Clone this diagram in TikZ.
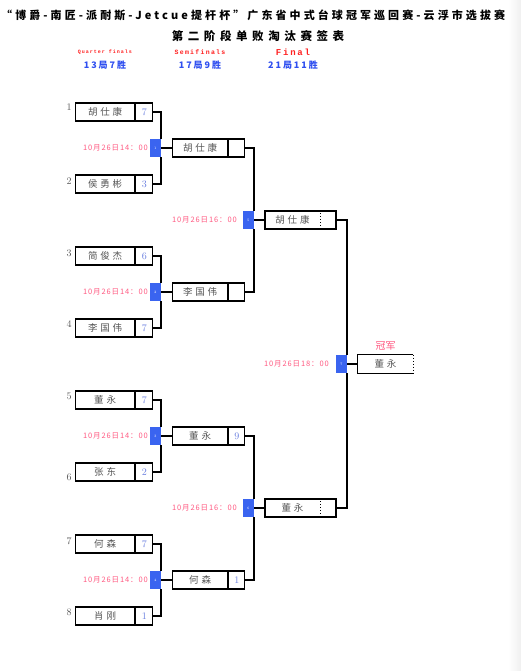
\documentclass[tikz,border=0pt]{standalone}
\usepackage{fontspec}
\newfontfamily\cjk{Noto Sans CJK SC}
\newfontfamily\titlefont[LetterSpace=28]{Noto Sans CJK SC}
\newfontfamily\subtitlefont[LetterSpace=40]{Noto Sans CJK SC}
\newfontfamily\namefont[LetterSpace=30]{Noto Sans CJK SC}
\newfontfamily\datefont[LetterSpace=12]{Noto Sans CJK SC}
\newfontfamily\gamefont[LetterSpace=22]{Noto Sans CJK SC}
\newfontfamily\labfont[LetterSpace=20]{Liberation Mono}
\definecolor{sqblue}{HTML}{3A64F0}
\definecolor{datecol}{HTML}{FF5A82}
\definecolor{scorecol}{HTML}{6A7FE0}
\definecolor{namecol}{HTML}{555555}
\definecolor{labred}{HTML}{FF2020}
\definecolor{labblue}{HTML}{2F4FF0}
\tikzset{
  ln/.style={line width=1.2pt, black},
  namebox/.style={draw, line width=1.2pt, minimum height=18pt, inner sep=0pt, anchor=west,
    text=namecol, font=\namefont\fontsize{9.5}{10}\selectfont},
  scorebox/.style={draw, line width=1.2pt, minimum height=18pt, inner sep=0pt, anchor=west,
    text=scorecol, font=\fontsize{10}{10}\selectfont},
  msq/.style={fill=sqblue, minimum width=11pt, minimum height=18pt, inner sep=0pt, anchor=east,
    text=white, font=\fontsize{3.5}{4}\selectfont},
  datelab/.style={anchor=east, inner sep=0pt, text=datecol, font=\datefont\fontsize{7.5}{8}\selectfont},
  seed/.style={inner sep=0pt, text=namecol, font=\fontsize{10}{10}\selectfont},
  plain/.style={inner sep=0pt, text=namecol, font=\namefont\fontsize{9.5}{10}\selectfont},
}
\begin{document}
\begin{tikzpicture}[x=1pt, y=-1pt]
\useasboundingbox (0,0) rectangle (521,671);
\clip (0,0) rectangle (521,671);
\fill[white] (0,0) rectangle (521,671);
\shade[left color=white, right color=gray!12] (508,0) rectangle (521,671);
% titles
\node[anchor=west, inner sep=0pt] (t1) at (1,15) {\titlefont\bfseries\fontsize{11}{11}\selectfont “博爵-南匠-派耐斯-Jetcue提杆杯”广东省中式台球冠军巡回赛-云浮市选拔赛};
\node[inner sep=0pt] (t2) at (258,36) {\subtitlefont\bfseries\fontsize{11.5}{12}\selectfont 第二阶段单败淘汰赛签表};
\node[inner sep=0pt, text=labred] (l1) at (105,52) {\labfont\bfseries\fontsize{5}{5}\selectfont Quarter finals};
\node[inner sep=0pt, text=labred] (l2) at (200,52) {\labfont\bfseries\fontsize{6.5}{6.5}\selectfont Semifinals};
\node[inner sep=0pt, text=labred] (l3) at (293,52) {\labfont\bfseries\fontsize{9}{9}\selectfont Final};
\node[inner sep=0pt, text=labblue] (g1) at (105,65) {\gamefont\bfseries\fontsize{9}{9}\selectfont 13局7胜};
\node[inner sep=0pt, text=labblue] (g2) at (200,65) {\gamefont\bfseries\fontsize{9}{9}\selectfont 17局9胜};
\node[inner sep=0pt, text=labblue] (g3) at (293,65) {\gamefont\bfseries\fontsize{9}{9}\selectfont 21局11胜};
% quarter final boxes
\foreach \i/\y/\n/\s/\sy in {1/112/胡仕康/7/107, 2/184/侯勇彬/3/181, 3/256/简俊杰/6/253, 4/328/李国伟/7/324,
                           5/400/董永/7/396, 6/472/张东/2/477, 7/544/何森/7/541, 8/616/肖刚/1/612}{
  \node[namebox, minimum width=59pt] (q\i) at (75,\y) {\n};
  \node[scorebox, minimum width=17pt] (q\i s) at (q\i.east) {\s};
  \node[seed] (n\i) at (69,\sy) {\i};
}
% semifinal boxes
\foreach \i/\y/\n/\s in {1/148/胡仕康/{}, 2/292/李国伟/{}, 3/436/董永/9, 4/580/何森/1}{
  \node[namebox, minimum width=55pt] (s\i) at (172,\y) {\n};
  \node[scorebox, minimum width=16pt] (s\i s) at (s\i.east) {\s};
}
% QF match squares
\foreach \i/\y in {1/148, 2/292, 3/436, 4/580}{
  \node[msq] (m\i) at (161,\y) {\i};
  \node[datelab] (d\i) at (148,\y) {10月26日14：00};
}
\foreach \i/\a/\b in {1/1/2, 2/3/4, 3/5/6, 4/7/8}{
  \draw[ln] (q\a s.east) -| (m\i.north east);
  \draw[ln] (q\b s.east) -| (m\i.south east);
  \draw[ln] (m\i.east) -- (s\i.west);
}
% final boxes
\node[draw, line width=1.2pt, minimum width=71pt, minimum height=18pt, inner sep=0pt] (f1) at (300.5,220) {};
\node[plain] (f1n) at (292.5,220) {胡仕康};
\draw[dotted, line width=1pt] ([xshift=-16pt]f1.north east) -- ([xshift=-16pt]f1.south east);
\node[draw, line width=1.2pt, minimum width=71pt, minimum height=18pt, inner sep=0pt] (f2) at (300.5,508) {};
\node[plain] (f2n) at (292.5,508) {董永};
\draw[dotted, line width=1pt] ([xshift=-16pt]f2.north east) -- ([xshift=-16pt]f2.south east);
% SF match squares
\node[msq] (m5) at (254,220) {5};
\node[datelab] (d5) at (237,220) {10月26日16：00};
\node[msq] (m6) at (254,508) {6};
\node[datelab] (d6) at (237,508) {10月26日16：00};
\draw[ln] (s1s.east) -| (m5.north east);
\draw[ln] (s2s.east) -| (m5.south east);
\draw[ln] (m5.east) -- (f1.west);
\draw[ln] (s3s.east) -| (m6.north east);
\draw[ln] (s4s.east) -| (m6.south east);
\draw[ln] (m6.east) -- (f2.west);
% final match
\node[msq] (m7) at (347,364) {7};
\node[datelab] (d7) at (329,364) {10月26日18：00};
\draw[ln] (f1.east) -| (m7.north east);
\draw[ln] (f2.east) -| (m7.south east);
\node[minimum width=55pt, minimum height=18pt, inner sep=0pt, text=namecol, font=\namefont\fontsize{9.5}{10}\selectfont] (c) at (385.5,364) {董永};
\draw[ln] (m7.east) -- (c.west);
\draw[line width=1.2pt] (c.north east) -- (c.north west) -- (c.south west) -- (c.south east);
\draw[dotted, line width=1pt] (c.north east) -- (c.south east);
\node[inner sep=0pt, text=datecol, font=\cjk\fontsize{10}{10}\selectfont] (champ) at (385.5,346) {冠军};
\end{tikzpicture}
\end{document}
